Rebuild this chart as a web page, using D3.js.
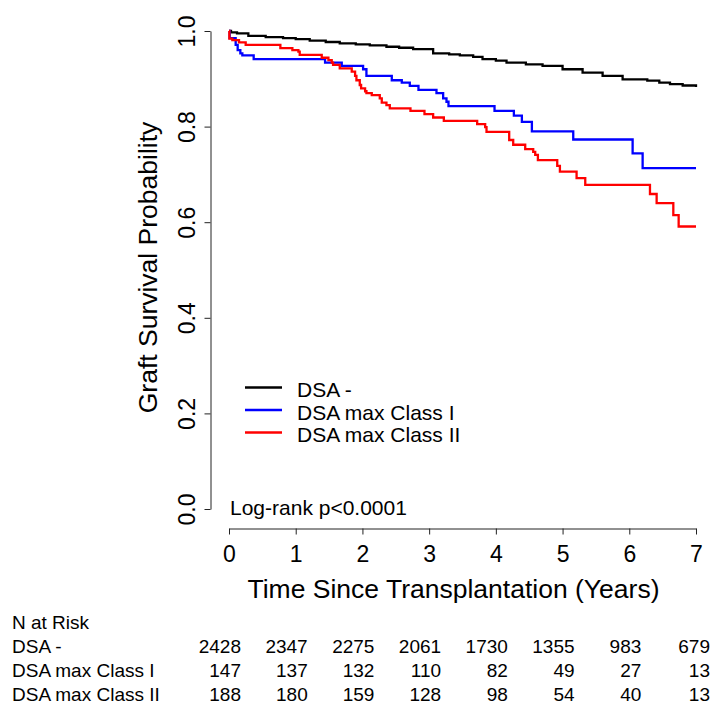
<!DOCTYPE html>
<html><head><meta charset="utf-8">
<script src="https://cdn.jsdelivr.net/npm/d3@7"></script>
<style>
body{margin:0;background:#fff}
svg text{font-family:"Liberation Sans", Arial, Helvetica, sans-serif;fill:#000}
</style>
</head><body>
<svg id="chart" width="715" height="711"></svg>
<script>
// ---------- data ----------
const xTicks = [0, 1, 2, 3, 4, 5, 6, 7];
const yTicks = [0, 0.2, 0.4, 0.6, 0.8, 1.0];
const groups = ["DSA -", "DSA max Class I", "DSA max Class II"];
const colors = ["#000000", "#0000ff", "#ff0000"];

// DSA - (Kaplan-Meier step points: time in years, survival)
const dsaNegTime = [0, 0.03, 0.12, 0.29, 0.55, 0.81, 1.0, 1.21, 1.45, 1.66, 1.9, 2.11, 2.36, 2.55, 2.76, 3.06, 3.3, 3.46, 3.66, 3.8, 4.0, 4.16, 4.45, 4.7, 5.0, 5.3, 5.6, 5.9, 6.27, 6.45, 6.61, 6.8, 7.0];
const dsaNegSurv = [1.0, 0.997, 0.995, 0.990, 0.987, 0.985, 0.983, 0.980, 0.977, 0.974, 0.972, 0.970, 0.967, 0.965, 0.962, 0.953, 0.951, 0.949, 0.946, 0.941, 0.938, 0.934, 0.930, 0.927, 0.920, 0.913, 0.906, 0.899, 0.896, 0.892, 0.889, 0.886, 0.883];

// DSA max Class I
const classITime = [0, 0.01, 0.1, 0.13, 0.17, 0.2, 0.37, 1.44, 1.69, 2.01, 2.06, 2.44, 2.59, 2.71, 2.84, 3.11, 3.21, 3.26, 3.29, 3.98, 4.27, 4.39, 4.54, 5.16, 6.05, 6.2, 7.0];
const classISurv = [1.0, 0.985, 0.971, 0.960, 0.953, 0.949, 0.941, 0.934, 0.927, 0.920, 0.906, 0.897, 0.892, 0.885, 0.877, 0.870, 0.859, 0.852, 0.843, 0.833, 0.823, 0.810, 0.790, 0.773, 0.744, 0.713, 0.713];

// DSA max Class II
const classIITime = [0, 0.005, 0.05, 0.15, 0.25, 0.77, 0.95, 1.04, 1.06, 1.39, 1.49, 1.54, 1.56, 1.66, 1.84, 1.89, 1.91, 1.96, 1.98, 2.04, 2.06, 2.14, 2.26, 2.29, 2.36, 2.41, 2.72, 2.93, 3.06, 3.22, 3.72, 3.84, 3.86, 4.2, 4.26, 4.44, 4.56, 4.59, 4.63, 4.92, 4.96, 5.21, 5.34, 6.31, 6.41, 6.66, 6.74, 7.0];
const classIISurv = [1.0, 0.984, 0.981, 0.976, 0.971, 0.964, 0.960, 0.957, 0.950, 0.944, 0.939, 0.934, 0.929, 0.922, 0.915, 0.906, 0.897, 0.887, 0.880, 0.874, 0.870, 0.866, 0.859, 0.850, 0.845, 0.838, 0.833, 0.826, 0.819, 0.812, 0.805, 0.799, 0.789, 0.772, 0.762, 0.753, 0.747, 0.741, 0.730, 0.718, 0.706, 0.692, 0.678, 0.659, 0.640, 0.615, 0.591, 0.591];

// Number at risk
const riskTimes = [0, 1, 2, 3, 4, 5, 6, 7];
const riskDsaNeg = [2428, 2347, 2275, 2061, 1730, 1355, 983, 679];
const riskClassI = [147, 137, 132, 110, 82, 49, 27, 13];
const riskClassII = [188, 180, 159, 128, 98, 54, 40, 13];

const pValueText = "Log-rank p<0.0001";
const xTitle = "Time Since Transplantation (Years)";
const yTitle = "Graft Survival Probability";
const riskTitle = "N at Risk";

// ---------- drawing ----------
const svg = d3.select("#chart");
const x = d3.scaleLinear().domain([0, 7]).range([229, 696]);
const y = d3.scaleLinear().domain([0, 1]).range([509, 31]);

const series = [
  {time: dsaNegTime, surv: dsaNegSurv},
  {time: classITime, surv: classISurv},
  {time: classIITime, surv: classIISurv}
];

const line = d3.line().x(d => x(d[0])).y(d => y(d[1])).curve(d3.curveStepAfter);

series.forEach((s, i) => {
  const pts = s.time.map((t, j) => [t, s.surv[j]]);
  svg.append("path")
    .datum(pts)
    .attr("d", line)
    .attr("fill", "none")
    .attr("stroke", colors[i])
    .attr("stroke-width", 2.3)
    .attr("stroke-linejoin", "miter");
});

// y axis
const yAxis = svg.append("g")
  .attr("transform", "translate(210.5,0)")
  .call(d3.axisLeft(y).tickValues(yTicks).tickFormat(d3.format(".1f")).tickSize(6).tickSizeOuter(0));
yAxis.select(".domain").attr("stroke", "#222").attr("stroke-width", 1);
yAxis.selectAll(".tick line").attr("stroke", "#222");
yAxis.selectAll(".tick text")
  .attr("x", null).attr("dy", null)
  .attr("transform", "translate(-16,0) rotate(-90)")
  .attr("text-anchor", "middle")
  .style("font-size", "23px")
  .style("font-family", "'Liberation Sans', Arial, sans-serif");

// x axis
const xAxis = svg.append("g")
  .attr("transform", "translate(0,528.5)")
  .call(d3.axisBottom(x).tickValues(xTicks).tickFormat(d3.format("d")).tickSize(6).tickSizeOuter(0));
xAxis.select(".domain").attr("stroke", "#222").attr("stroke-width", 1);
xAxis.selectAll(".tick line").attr("stroke", "#222");
xAxis.selectAll(".tick text")
  .attr("y", 33).attr("dy", null)
  .style("font-size", "23px")
  .style("font-family", "'Liberation Sans', Arial, sans-serif");

// axis titles
svg.append("text")
  .attr("x", 453.5).attr("y", 598)
  .attr("text-anchor", "middle")
  .style("font-size", "26.5px")
  .text(xTitle);

svg.append("text")
  .attr("transform", "translate(157,267.5) rotate(-90)")
  .attr("text-anchor", "middle")
  .style("font-size", "26.5px")
  .text(yTitle);

// legend
const legend = svg.append("g");
groups.forEach((g, i) => {
  const ly = 387.5 + i * 22.5;
  legend.append("line")
    .attr("x1", 245).attr("x2", 282)
    .attr("y1", ly).attr("y2", ly)
    .attr("stroke", colors[i]).attr("stroke-width", 2.3);
  legend.append("text")
    .attr("x", 297).attr("y", ly + 9.5)
    .style("font-size", "21px")
    .text(g);
});

// p-value
svg.append("text")
  .attr("x", 230).attr("y", 515)
  .style("font-size", "21px")
  .text(pValueText);

// risk table
const riskRows = [riskDsaNeg, riskClassI, riskClassII];
svg.append("text")
  .attr("x", 12).attr("y", 629)
  .style("font-size", "19px")
  .text(riskTitle);
riskRows.forEach((row, i) => {
  const by = 653 + i * 24;
  svg.append("text")
    .attr("x", 12).attr("y", by)
    .style("font-size", "19px")
    .text(groups[i]);
  svg.selectAll(null)
    .data(row)
    .enter().append("text")
    .attr("x", (d, j) => x(riskTimes[j]) + 12 + (j === riskTimes.length - 1 ? 2 : 0))
    .attr("y", by)
    .attr("text-anchor", "end")
    .style("font-size", "19px")
    .text(d => d);
});
</script>
</body></html>
